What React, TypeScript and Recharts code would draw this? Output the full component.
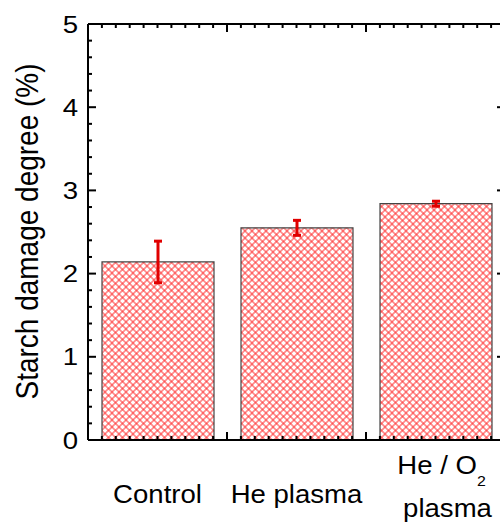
import React from "react";
import { BarChart, Bar, XAxis, YAxis, ErrorBar } from "recharts";

const categories = ["Control", "He plasma", "He / O2 plasma"];
const damage = [2.14, 2.55, 2.84];
const damageError = [0.25, 0.09, 0.03];

// axis tick positions (majors at integers, minors in between)
const yTicks = Array.from({ length: 26 }, (_, i) => i / 5);
const xTicks = Array.from({ length: 31 }, (_, i) => i / 10);

const data = categories.map((name, i) => ({
  name,
  value: damage[i],
  err: damageError[i],
}));

const FONT = "Liberation Sans, Arial, Helvetica, sans-serif";
const isMajor = (v: number) => Math.abs(v - Math.round(v)) < 1e-6;
const noData = () => 0;

const leftTick = (props: any) => {
  const { x, y, payload } = props;
  const major = isMajor(payload.value);
  return (
    <g>
      <line x1={x} y1={y} x2={x + (major ? 8 : 4)} y2={y} stroke="#000" strokeWidth={2} />
      {major && (
        <text
          transform={`translate(${x - 10} ${y + 8.5}) scale(1.15 1)`}
          textAnchor="end"
          fontSize={24}
          fontFamily={FONT}
          fill="#000"
        >
          {Math.round(payload.value)}
        </text>
      )}
    </g>
  );
};

const rightTick = (props: any) => {
  const { x, y, payload } = props;
  const major = isMajor(payload.value);
  return <line x1={x} y1={y} x2={x - (major ? 8 : 4)} y2={y} stroke="#000" strokeWidth={2} />;
};

const topTick = (props: any) => {
  const { x, y, payload } = props;
  const major = isMajor(payload.value);
  return <line x1={x} y1={y} x2={x} y2={y + (major ? 8 : 4)} stroke="#000" strokeWidth={2} />;
};

const bottomTick = (props: any) => {
  const { x, y, payload } = props;
  const major = isMajor(payload.value);
  return <line x1={x} y1={y} x2={x} y2={y - (major ? 8 : 4)} stroke="#000" strokeWidth={2} />;
};

const categoryTick = (props: any) => {
  const { x, y, payload } = props;
  const textProps = { fontSize: 26, fontFamily: FONT, fill: "#000", textAnchor: "middle" as const };
  if (payload.value === "He / O2 plasma") {
    return (
      <g>
        <text transform={`translate(${x + 6} ${y + 33}) scale(1.06 1)`} {...textProps}>
          He / O
          <tspan fontSize={15} dy={12}>
            2
          </tspan>
        </text>
        <text transform={`translate(${x + 12} ${y + 76}) scale(1.06 1)`} {...textProps}>
          plasma
        </text>
      </g>
    );
  }
  return (
    <text transform={`translate(${x} ${y + 62}) scale(1.06 1)`} {...textProps}>
      {payload.value}
    </text>
  );
};

export default function App() {
  return (
    <div style={{ position: "absolute", left: 0, top: 0, width: 500, height: 522, overflow: "hidden", background: "#fff" }}>
      <BarChart
        width={500}
        height={522}
        data={data}
        margin={{ top: 23, right: -6, bottom: 80, left: 87 }}
      >
        <defs>
          <pattern id="xhatch" patternUnits="userSpaceOnUse" width={7} height={7}>
            <rect width={7} height={7} fill="#fff" />
            <path d="M-1,-1 L8,8 M-1,6 L1,8 M6,-1 L8,1" stroke="#ff2a2a" strokeOpacity={0.55} strokeWidth={1.6} />
            <path d="M8,-1 L-1,8 M1,-1 L-1,1 M8,6 L6,8" stroke="#ff2a2a" strokeOpacity={0.55} strokeWidth={1.6} />
          </pattern>
        </defs>
        <Bar
          xAxisId="cat"
          yAxisId="left"
          dataKey="value"
          barSize={112}
          fill="url(#xhatch)"
          stroke="#444"
          strokeWidth={1.2}
          isAnimationActive={false}
        >
          <ErrorBar dataKey="err" stroke="#e00000" strokeWidth={3} width={4} isAnimationActive={false} />
        </Bar>
        <XAxis
          xAxisId="cat"
          dataKey="name"
          type="category"
          height={1}
          axisLine={false}
          tickLine={false}
          tickSize={0}
          tickMargin={0}
          interval={0}
          tick={categoryTick}
        />
        <YAxis
          yAxisId="left"
          type="number"
          domain={[0, 5]}
          allowDataOverflow
          ticks={yTicks}
          interval={0}
          width={1}
          tickSize={0}
          tickMargin={0}
          tickLine={false}
          axisLine={{ stroke: "#000", strokeWidth: 2 }}
          tick={leftTick}
        />
        <YAxis
          yAxisId="right"
          orientation="right"
          type="number"
          domain={[0, 5]}
          allowDataOverflow
          ticks={yTicks}
          interval={0}
          width={1}
          tickSize={0}
          tickMargin={0}
          tickLine={false}
          axisLine={{ stroke: "#000", strokeWidth: 2 }}
          tick={rightTick}
        />
        <XAxis
          xAxisId="bottom"
          type="number"
          dataKey={noData}
          domain={[0, 3]}
          allowDataOverflow
          ticks={xTicks}
          interval={0}
          height={1}
          tickSize={0}
          tickMargin={0}
          tickLine={false}
          axisLine={{ stroke: "#000", strokeWidth: 2 }}
          tick={bottomTick}
        />
        <XAxis
          xAxisId="top"
          orientation="top"
          type="number"
          dataKey={noData}
          domain={[0, 3]}
          allowDataOverflow
          ticks={xTicks}
          interval={0}
          height={1}
          tickSize={0}
          tickMargin={0}
          tickLine={false}
          axisLine={{ stroke: "#000", strokeWidth: 2 }}
          tick={topTick}
        />
        <text
          transform="translate(38 231.5) rotate(-90) scale(1 1.12)"
          textAnchor="middle"
          fontSize={28}
          fontFamily={FONT}
          fill="#000"
        >
          Starch damage degree (%)
        </text>
      </BarChart>
    </div>
  );
}
